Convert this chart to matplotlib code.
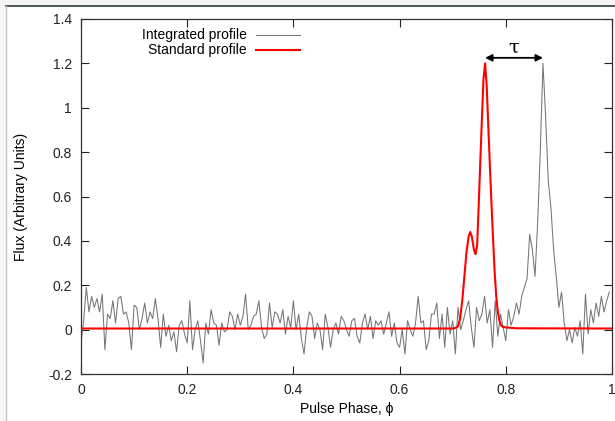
import numpy as np
import matplotlib
matplotlib.use("Agg")
import matplotlib.pyplot as plt
from matplotlib.lines import Line2D
from matplotlib.patches import Rectangle

plt.rcParams['font.family'] = ['Liberation Sans', 'DejaVu Sans']

# ---------------- data ----------------
# integrated profile, 200 phase bins over one rotation
integrated_flux = [
    -0.06, 0.04, 0.19, 0.08, 0.15, 0.10, 0.14, 0.08, 0.16, -0.09,
    0.07, 0.05, 0.13, 0.03, 0.14, 0.15, 0.07, 0.08, 0.03, -0.09,
    0.11, 0.10, 0.00, 0.05, 0.12, 0.03, 0.08, 0.05, 0.14, 0.05,
    -0.08, 0.07, -0.03, 0.02, -0.05, -0.01, -0.10, 0.02, 0.04, -0.02,
    -0.06, 0.13, -0.09, 0.00, 0.04, -0.05, -0.15, 0.03, -0.02, 0.09,
    0.03, 0.02, -0.07, 0.03, -0.01, 0.00, 0.08, 0.06, 0.00, 0.07,
    0.02, 0.06, 0.16, 0.00, 0.02, 0.06, 0.07, 0.13, 0.01, -0.04,
    -0.02, 0.12, 0.01, 0.08, 0.07, 0.03, 0.09, -0.02, 0.06, 0.01,
    0.13, 0.00, 0.07, -0.04, -0.11, 0.01, 0.08, 0.06, -0.04, 0.03,
    0.00, -0.09, 0.07, 0.01, -0.08, 0.00, 0.03, -0.02, 0.06, 0.04,
    0.00, -0.03, 0.04, 0.05, -0.03, -0.06, 0.03, 0.07, 0.00, 0.06,
    -0.04, 0.04, 0.02, 0.04, -0.02, 0.03, 0.08, -0.03, 0.03, -0.06,
    -0.08, 0.00, -0.11, 0.04, 0.00, -0.03, 0.03, 0.15, 0.03, 0.04,
    -0.09, -0.05, 0.07, 0.07, 0.12, -0.04, 0.07, -0.08, 0.10, -0.02,
    0.04, -0.11, 0.10, 0.00, 0.04, 0.09, 0.13, 0.01, -0.08, 0.10,
    0.04, 0.07, 0.15, 0.03, 0.09, -0.08, 0.13, -0.03, 0.07, 0.01,
    -0.05, 0.09, 0.02, 0.06, 0.12, 0.07, 0.15, 0.19, 0.23, 0.43,
    0.36, 0.24, 0.48, 0.81, 1.20, 0.96, 0.67, 0.55, 0.36, 0.24,
    0.10, 0.17, 0.03, -0.05, 0.00, -0.06, 0.01, -0.03, 0.04, -0.11,
    0.16, -0.02, 0.09, 0.03, 0.12, 0.06, 0.15, 0.08, 0.13, 0.17,
]
integrated_phase = np.arange(len(integrated_flux)) / len(integrated_flux)

# standard (template) profile
standard_phase = [0.0, 0.700, 0.706, 0.710, 0.714, 0.718, 0.722, 0.726, 0.730,
                  0.733, 0.736, 0.740, 0.743, 0.746, 0.749, 0.752, 0.755, 0.758,
                  0.761, 0.764, 0.767, 0.770, 0.773, 0.776, 0.779, 0.782, 0.785,
                  0.788, 0.791, 0.795, 0.800, 0.820, 1.0]
standard_flux = [0.005, 0.005, 0.008, 0.015, 0.05, 0.13, 0.24, 0.35, 0.42,
                 0.44, 0.42, 0.36, 0.34, 0.38, 0.56, 0.76, 0.95, 1.13,
                 1.20, 1.10, 0.92, 0.74, 0.57, 0.41, 0.26, 0.15, 0.08,
                 0.04, 0.02, 0.012, 0.01, 0.006, 0.005]

x_ticks = [0, 0.2, 0.4, 0.6, 0.8, 1]
x_ticklabels = ["0", "0.2", "0.4", "0.6", "0.8", "1"]
y_ticks = [-0.2, 0, 0.2, 0.4, 0.6, 0.8, 1, 1.2, 1.4]
y_ticklabels = ["-0.2", "0", "0.2", "0.4", "0.6", "0.8", "1", "1.2", "1.4"]

# ---------------- figure ----------------
fig = plt.figure(figsize=(6.15, 4.21), dpi=100)
W, H = 615, 421

# page frame
fig.add_artist(Rectangle((0, 1 - 6 / H), 1, 6 / H, transform=fig.transFigure,
                         color="#f6f6f6", zorder=0))
fig.add_artist(Rectangle((0, 0), 6 / W, 1, transform=fig.transFigure,
                         color="#f6f6f6", zorder=0))
fig.add_artist(Line2D([6 / W, 1], [1 - 6 / H, 1 - 6 / H], transform=fig.transFigure,
                      color="#2e3b3b", lw=1.2))
fig.add_artist(Line2D([6 / W, 6 / W], [0, 1 - 6 / H], transform=fig.transFigure,
                      color="#c8c8c8", lw=1.0))

ax = fig.add_axes([81 / W, 1 - 374 / H, 531 / W, 355 / H])

ax.plot(integrated_phase, integrated_flux, color="#757575", lw=0.75, zorder=2)
ax.plot(standard_phase, standard_flux, color="#ff0000", lw=1.5, zorder=3)

ax.set_xlim(0, 1)
ax.set_ylim(-0.2, 1.4)
ax.set_xticks(x_ticks)
ax.set_xticklabels(x_ticklabels)
ax.set_yticks(y_ticks)
ax.set_yticklabels(y_ticklabels)
ax.tick_params(direction="in", length=6, width=0.8, top=True, right=True,
               labelsize=10, pad=6.5, colors="#222222")
for s in ax.spines.values():
    s.set_linewidth(0.9)
    s.set_color("#333333")

ax.set_xlabel("Pulse Phase, \u03d5", fontsize=10)
ax.set_ylabel("Flux (Arbitrary Units)", fontsize=10)
ax.xaxis.set_label_coords(0.5, -0.08)
ax.yaxis.set_label_coords(-0.0998, 0.5)

# key, gnuplot style: right aligned text then line sample
key_rows = [("Integrated profile", "#757575", 0.75, 0.955),
            ("Standard profile", "#ff0000", 1.5, 0.913)]
for label, c, lw, yk in key_rows:
    ax.text(0.3126, yk, label, transform=ax.transAxes, ha="right", va="center",
            fontsize=10)
    ax.plot([0.3296, 0.4124], [yk, yk], transform=ax.transAxes, color=c, lw=lw,
            clip_on=False)

# delay between template peak and observed peak
std_peak = standard_phase[int(np.argmax(standard_flux))]
int_peak = integrated_phase[int(np.argmax(integrated_flux))]
ax.annotate("", xy=(std_peak, 1.225), xytext=(int_peak, 1.225),
            arrowprops=dict(arrowstyle="<|-|>", color="black", lw=1.3,
                            mutation_scale=10, shrinkA=0, shrinkB=0))
ax.text((std_peak + int_peak) / 2, 1.27, "\u03c4", ha="center", va="center",
        fontsize=14, family="DejaVu Serif")

fig.savefig("out.png", dpi=100)
